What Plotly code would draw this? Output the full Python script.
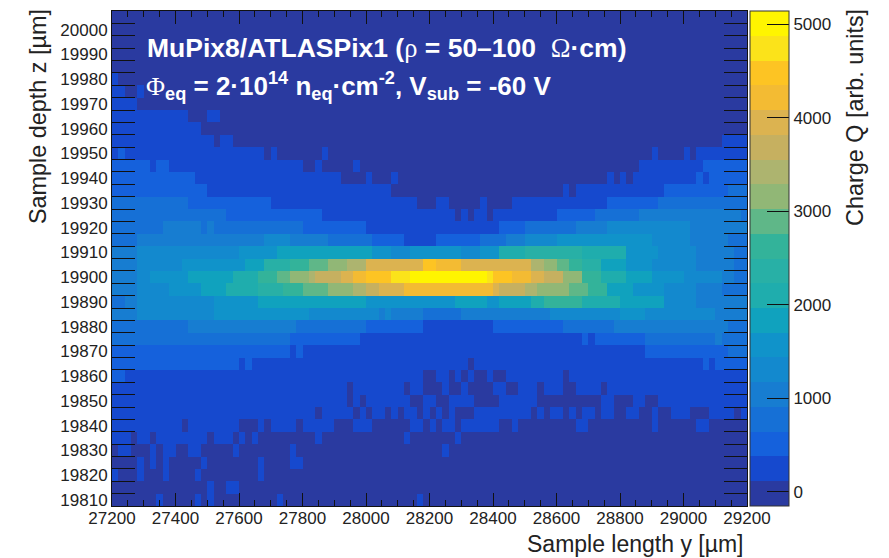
import plotly.graph_objects as go

# Axis values
y_labels = list(range(19810, 20010, 10))
x_major = list(range(27200, 29400, 200))
cbar_ticks = [0, 1000, 2000, 3000, 4000, 5000]
Q_MIN, Q_MAX = -150, 5139

# Colour of each of the 20 charge levels, low to high
level_colors = ["#2A3AA0", "#1649CE", "#1561DC", "#1670D6", "#177DD1", "#1389CE", "#1093CA",
                "#10A2BE", "#1FADAD", "#28B0A6", "#33B39A", "#5FB788", "#91B776", "#ADB46F",
                "#C6B060", "#DCB350", "#F3BB33", "#FDC423", "#FBE31A", "#FFF500"]

# Charge level per row, top row first, as (level, last column) runs over 100 columns
rows = [
    [(0, 99)],
    [(0, 99)],
    [(0, 99)],
    [(0, 99)],
    [(0, 99)],
    [(1, 0), (0, 99)],
    [(1, 1), (0, 3), (1, 4), (0, 99)],
    [(1, 3), (0, 99)],
    [(1, 11), (0, 14), (1, 16), (0, 99)],
    [(1, 13), (0, 99)],
    [(1, 15), (0, 16), (1, 18), (0, 95), (1, 99)],
    [(1, 0), (2, 1), (1, 23), (0, 24), (1, 25), (0, 32), (1, 33), (0, 84), (1, 85), (0, 89), (1, 90), (0, 91), (1, 99)],
    [(2, 5), (1, 6), (2, 8), (1, 29), (0, 31), (1, 32), (0, 37), (1, 38), (0, 82), (1, 92), (2, 99)],
    [(2, 12), (1, 35), (0, 39), (1, 40), (0, 43), (1, 44), (0, 77), (1, 78), (0, 79), (1, 80), (0, 81), (1, 91), (2, 92), (1, 93), (2, 99)],
    [(2, 14), (1, 43), (0, 70), (1, 71), (0, 72), (1, 86), (2, 96), (3, 99)],
    [(3, 11), (2, 24), (1, 47), (0, 50), (1, 52), (0, 57), (1, 58), (0, 62), (1, 77), (2, 85), (3, 99)],
    [(3, 17), (2, 32), (1, 53), (0, 54), (1, 55), (0, 56), (1, 58), (0, 59), (1, 69), (2, 75), (3, 82), (4, 98), (3, 99)],
    [(3, 7), (4, 13), (3, 14), (4, 15), (3, 29), (2, 39), (1, 60), (2, 64), (3, 72), (4, 77), (5, 90), (4, 99)],
    [(3, 3), (4, 23), (5, 27), (4, 33), (3, 40), (2, 45), (1, 50), (2, 57), (3, 61), (4, 64), (5, 69), (6, 84), (5, 90), (4, 96), (3, 99)],
    [(4, 3), (5, 19), (6, 25), (7, 40), (6, 43), (5, 46), (6, 54), (5, 57), (6, 60), (8, 64), (9, 73), (8, 80), (6, 85), (5, 91), (4, 97), (3, 99)],
    [(4, 3), (5, 10), (6, 20), (7, 23), (9, 27), (10, 30), (11, 33), (12, 36), (13, 39), (15, 48), (17, 50), (16, 54), (15, 65), (13, 67), (12, 69), (11, 71), (10, 73), (9, 76), (7, 80), (6, 84), (5, 91), (4, 97), (3, 99)],
    [(4, 3), (5, 5), (6, 11), (7, 18), (8, 22), (10, 25), (11, 27), (12, 30), (13, 31), (14, 35), (15, 37), (16, 39), (17, 43), (18, 46), (19, 58), (18, 59), (17, 62), (16, 65), (15, 67), (14, 70), (12, 73), (10, 76), (8, 80), (7, 84), (6, 89), (5, 95), (4, 97), (3, 99)],
    [(4, 3), (5, 8), (6, 13), (7, 17), (8, 22), (9, 26), (10, 29), (11, 33), (12, 37), (13, 39), (14, 41), (15, 45), (16, 59), (15, 60), (14, 64), (13, 66), (12, 71), (11, 74), (10, 77), (7, 81), (6, 86), (5, 91), (4, 95), (3, 99)],
    [(3, 1), (4, 3), (5, 15), (6, 22), (7, 39), (6, 53), (7, 58), (6, 60), (7, 65), (8, 67), (10, 73), (8, 79), (7, 86), (5, 91), (4, 99)],
    [(4, 3), (5, 15), (6, 30), (5, 40), (5, 41), (4, 42), (5, 43), (4, 48), (3, 54), (4, 68), (5, 79), (6, 83), (5, 94), (4, 99)],
    [(3, 11), (4, 28), (3, 39), (2, 48), (1, 59), (2, 70), (3, 78), (4, 96), (3, 99)],
    [(3, 27), (2, 38), (1, 73), (2, 74), (1, 75), (2, 83), (3, 94), (4, 95), (3, 99)],
    [(2, 27), (1, 28), (2, 29), (1, 83), (2, 96), (3, 99)],
    [(2, 19), (1, 20), (2, 21), (1, 55), (0, 56), (1, 92), (2, 93), (1, 94), (2, 99)],
    [(2, 1), (1, 48), (0, 50), (1, 52), (0, 53), (1, 54), (0, 55), (1, 56), (0, 58), (1, 59), (0, 61), (1, 70), (0, 71), (1, 99)],
    [(1, 36), (0, 37), (1, 45), (0, 46), (1, 48), (0, 51), (1, 52), (0, 54), (1, 55), (0, 59), (1, 61), (0, 63), (1, 66), (0, 67), (1, 70), (0, 72), (1, 76), (0, 77), (1, 99)],
    [(1, 36), (0, 37), (1, 38), (0, 39), (1, 46), (0, 48), (1, 50), (0, 52), (1, 56), (0, 60), (1, 66), (0, 76), (1, 78), (0, 81), (1, 83), (0, 85), (1, 99)],
    [(1, 31), (0, 32), (1, 37), (0, 38), (1, 39), (0, 40), (1, 42), (0, 43), (1, 44), (0, 45), (1, 47), (0, 48), (1, 49), (0, 50), (1, 51), (0, 52), (1, 53), (0, 56), (1, 65), (0, 66), (1, 67), (0, 68), (1, 70), (0, 71), (1, 72), (0, 73), (1, 75), (0, 76), (1, 78), (0, 80), (1, 82), (0, 84), (1, 85), (0, 87), (1, 90), (0, 93), (1, 97), (0, 98), (1, 99)],
    [(1, 10), (0, 11), (1, 19), (0, 22), (1, 23), (0, 24), (1, 28), (0, 29), (1, 34), (0, 37), (1, 40), (0, 46), (1, 48), (0, 49), (1, 50), (0, 51), (1, 53), (0, 54), (1, 60), (0, 62), (1, 63), (0, 72), (1, 74), (0, 84), (1, 85), (0, 91), (1, 93), (0, 99)],
    [(1, 2), (0, 3), (1, 5), (0, 6), (1, 14), (0, 15), (1, 18), (0, 19), (1, 20), (0, 21), (1, 22), (0, 31), (1, 32), (0, 45), (1, 46), (0, 53), (1, 54), (0, 99)],
    [(0, 0), (1, 2), (0, 5), (1, 6), (0, 7), (1, 9), (0, 11), (1, 13), (0, 18), (1, 19), (0, 27), (1, 28), (0, 51), (1, 52), (0, 99)],
    [(0, 3), (1, 4), (0, 5), (1, 6), (0, 7), (1, 8), (0, 13), (1, 14), (0, 22), (1, 23), (0, 27), (1, 29), (0, 99)],
    [(1, 0), (0, 3), (1, 4), (0, 7), (1, 8), (0, 12), (1, 13), (0, 22), (1, 23), (0, 99)],
    [(0, 14), (1, 15), (0, 17), (1, 19), (0, 99)],
    [(0, 6), (1, 7), (0, 12), (1, 13), (0, 14), (1, 15), (0, 25), (1, 26), (0, 47), (1, 48), (0, 99)],
]

n_levels = len(level_colors)
step = (Q_MAX - Q_MIN) / n_levels


def expand(runs):
    out, first = [], 0
    for level, last in runs:
        out += [Q_MIN + (level + 0.5) * step] * (last - first + 1)
        first = last + 1
    return out


z = [expand(r) for r in rows]
x_centers = [27210 + 20 * i for i in range(100)]
y_centers = [20005 - 5 * i for i in range(40)]
y_edges = [19807.5 + 5 * i for i in range(41)]

scale = []
for i, c in enumerate(level_colors):
    scale += [[i / n_levels, c], [(i + 1) / n_levels, c]]

TICK = "#222222"
FONT = "Liberation Sans"

fig = go.Figure(go.Heatmap(
    x=x_centers, y=y_centers, z=z, zmin=Q_MIN, zmax=Q_MAX, colorscale=scale,
    hoverinfo="skip",
    colorbar=dict(
        x=638 / 635, xanchor="left", xref="paper", y=0.5, yanchor="middle",
        thicknessmode="pixels", thickness=39, lenmode="fraction", len=1,
        tickmode="array", tickvals=cbar_ticks, ticktext=[str(v) for v in cbar_ticks],
        ticks="inside", ticklen=22, tickcolor="#111111", tickwidth=1,
        tickfont=dict(family=FONT, size=17, color=TICK),
        outlinecolor="#333333", outlinewidth=1, xpad=0, ypad=0,
    ),
))

fig.update_layout(
    width=881, height=550, autosize=False,
    margin=dict(l=104, r=142, t=3, b=52),
    paper_bgcolor="white", plot_bgcolor="white",
    font=dict(family=FONT, color=TICK),
    xaxis=dict(
        range=[27200, 29200], tickmode="array", tickvals=x_major,
        ticktext=[str(v) for v in x_major],
        ticks="inside", ticklen=13, tickcolor="#111111", mirror="ticks",
        showline=True, linecolor="#111111", linewidth=1, showgrid=False, zeroline=False,
        tickfont=dict(family=FONT, size=17, color=TICK), ticklabelstandoff=-3,
        minor=dict(dtick=50, ticks="inside", ticklen=6, tickcolor="#111111", showgrid=False),
    ),
    yaxis=dict(
        range=[19807.5, 20007.5], tickmode="array", tickvals=y_labels,
        ticktext=[str(v) for v in y_labels],
        ticks="inside", ticklen=0, tickcolor="rgba(0,0,0,0)", mirror="ticks",
        showline=True, linecolor="#111111", linewidth=1, showgrid=False, zeroline=False,
        tickfont=dict(family=FONT, size=17, color=TICK),
        minor=dict(tickmode="array", tickvals=y_edges, ticks="inside", ticklen=23,
                   tickcolor="#111111", showgrid=False),
    ),
)

GREEK = "<span style=\"font-family:'Liberation Serif';font-weight:normal\">%s</span>"
anns = [
    dict(text="<b>MuPix8/ATLASPix1 (" + GREEK % "ρ" + " = 50–100  " + GREEK % "Ω" + "·cm)</b>",
         x=145, y=48, size=26.5, color="white", angle=0, anchor="left"),
    dict(text="<b>" + GREEK % "Φ" + "<sub>eq</sub> = 2·10<sup>14</sup> n<sub>eq</sub>·cm<sup>-2</sup>, V<sub>sub</sub> = -60 V</b>",
         x=144, y=86, size=26, color="white", angle=0, anchor="left"),
    dict(text="Sample length y [µm]", x=746, y=544, size=23, color=TICK, angle=0, anchor="right"),
    dict(text="Sample depth z [µm]", x=38, y=117, size=23.4, color=TICK, angle=-90, anchor="center"),
    dict(text="Charge Q [arb. units]", x=855, y=118, size=23.4, color=TICK, angle=-90, anchor="center"),
]
for a in anns:
    fig.add_annotation(
        text=a["text"], showarrow=False, textangle=a["angle"],
        xref="paper", yref="paper",
        x=(a["x"] - 112) / 635, y=(506 - a["y"]) / 495,
        xanchor=a["anchor"], yanchor="middle",
        font=dict(family=FONT, size=a["size"], color=a["color"]),
    )

fig.write_html("out.html")
